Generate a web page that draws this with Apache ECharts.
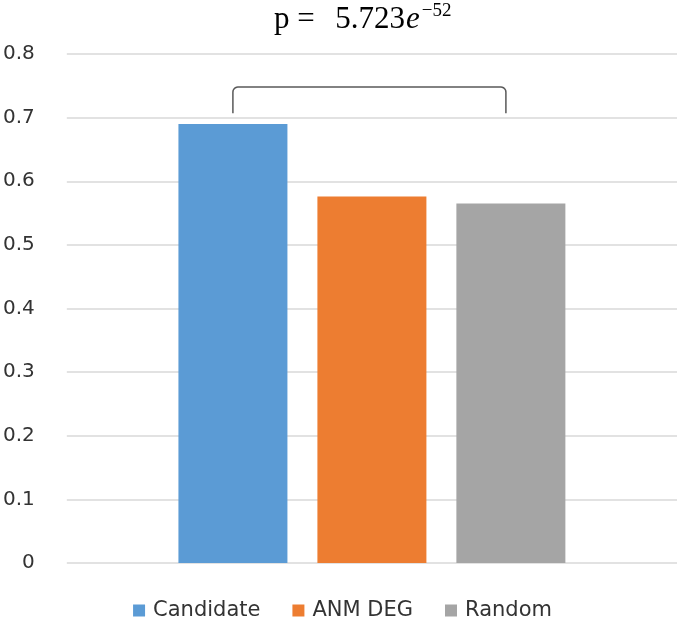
<!DOCTYPE html>
<html><head><meta charset="utf-8">
<script src="https://cdn.jsdelivr.net/npm/echarts@6/dist/echarts.min.js"></script>
<style>html,body{margin:0;padding:0;background:#fff}#c{width:685px;height:626px}</style>
</head><body><div id="c"></div>
<script>
const categories = [''];
const seriesNames = ['Candidate', 'ANM DEG', 'Random'];
const candidate = [0.690];
const anmDeg = [0.576];
const random = [0.565];
const colors = ['#5B9BD5', '#ED7D31', '#A5A5A5'];
const bracketTop = 0.748, bracketBottom = 0.707;

const chart = echarts.init(document.getElementById('c'));
const font = '"DejaVu Sans", sans-serif';
const serif = '"Liberation Serif", "DejaVu Serif", serif';
const textColor = '#333333';
const mk = (name, data, color) => ({
  name, type: 'bar', data, barWidth: 109, barGap: '27.5%',
  itemStyle: { color }, silent: true
});
chart.setOption({
  animation: false,
  title: {
    text: '{a|p = } {a| 5.723}{e|e}{s|−52}',
    left: 274, top: 0, padding: 0,
    textStyle: {
      fontWeight: 'normal',
      rich: {
        a: { fontFamily: serif, fontSize: 31, fontWeight: 'normal', color: '#000', lineHeight: 35, verticalAlign: 'bottom' },
        e: { fontFamily: serif, fontStyle: 'italic', fontWeight: 'normal', fontSize: 31, color: '#000', lineHeight: 35, verticalAlign: 'bottom', padding: [0, 1, 0, 1] },
        s: { fontFamily: serif, fontSize: 19, fontWeight: 'normal', color: '#000', lineHeight: 19, verticalAlign: 'top', padding: [2, 0, 0, 1] }
      }
    }
  },
  legend: {
    bottom: 0, left: 'center', itemWidth: 12, itemHeight: 12, itemGap: 32,
    icon: 'rect',
    textStyle: { fontFamily: font, fontSize: 21, color: textColor, padding: [0, 0, 0, 3] },
    data: seriesNames
  },
  grid: { left: 63, right: 8, top: 54, bottom: 63 },
  xAxis: {
    type: 'category', data: categories,
    axisLine: { show: false }, axisTick: { show: false }, axisLabel: { show: false }
  },
  yAxis: {
    type: 'value', min: 0, max: 0.8, interval: 0.1,
    axisLine: { show: false }, axisTick: { show: false },
    axisLabel: { fontFamily: font, fontSize: 20, color: textColor, margin: 32,
      formatter: v => (Math.round(v * 10) / 10).toString() },
    splitLine: { lineStyle: { color: '#D9D9D9', width: 1.5 } }
  },
  series: [mk(seriesNames[0], candidate, colors[0]), mk(seriesNames[1], anmDeg, colors[1]), mk(seriesNames[2], random, colors[2])]
});

const c = chart.convertToPixel({ xAxisIndex: 0, yAxisIndex: 0 }, [0, bracketTop]);
const yb = chart.convertToPixel({ yAxisIndex: 0 }, bracketBottom);
const x1 = c[0] - 139, x2 = c[0] + 134, yt = c[1], r = 5;
const pts = [[x1, yb]];
for (let i = 0; i <= 6; i++) { const a = Math.PI - (Math.PI / 2) * i / 6; pts.push([x1 + r + r * Math.cos(a), yt + r - r * Math.sin(a)]); }
for (let i = 0; i <= 6; i++) { const a = Math.PI / 2 - (Math.PI / 2) * i / 6; pts.push([x2 - r + r * Math.cos(a), yt + r - r * Math.sin(a)]); }
pts.push([x2, yb]);
chart.setOption({
  graphic: [{
    type: 'polyline', silent: true,
    shape: { points: pts },
    style: { fill: null, stroke: '#595959', lineWidth: 1.5 }
  }]
});
</script></body></html>
